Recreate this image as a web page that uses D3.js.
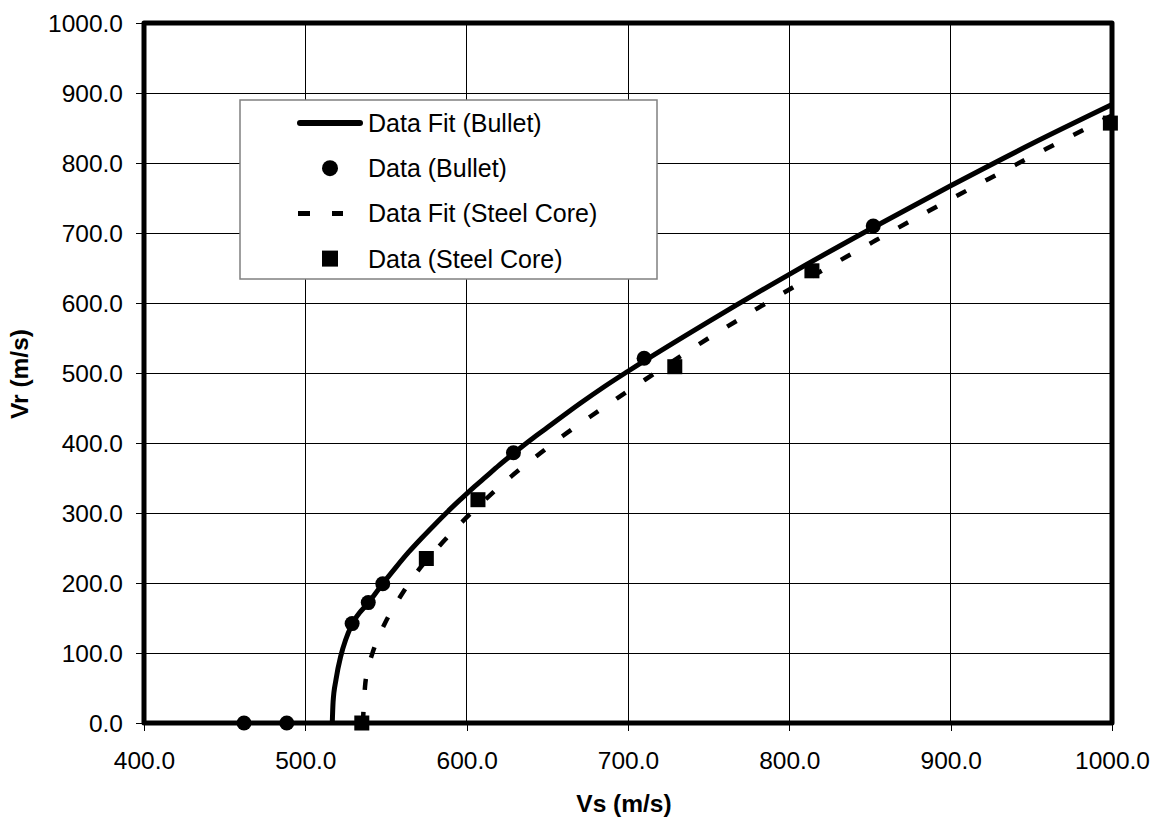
<!DOCTYPE html>
<html>
<head>
<meta charset="utf-8">
<script src="https://cdn.jsdelivr.net/npm/d3@7"></script>
<style>
  html, body { margin: 0; padding: 0; background: #fff; }
  svg { display: block; font-family: "Liberation Sans", Arial, sans-serif; }
</style>
</head>
<body>
<svg id="chart" width="1159" height="821"></svg>
<script>
// Residual velocity (Vr) versus striking velocity (Vs)

// Measured points, bullet: [Vs, Vr]
const bulletData = [
  [462, 0], [488.5, 0], [529, 142], [539, 172], [548, 199],
  [629, 386], [710, 521], [852, 710]
];

// Measured points, steel core: [Vs, Vr]
const steelData = [
  [535, 0], [575, 235], [607, 319], [729, 509], [814, 646], [999, 857]
];

// Fitted curve, bullet: [Vs, Vr]
const bulletFit = [
  [516.7, 0], [517.2, 30], [519, 62], [522, 96], [525, 119], [529, 141],
  [540, 174.5], [548, 199], [556, 222], [564, 244], [572, 264],
  [580, 283], [588, 301.5], [596, 319], [604, 336], [612, 352],
  [620, 368], [629, 385], [640, 405], [650, 422], [670, 456], [685, 480],
  [700, 502.5], [750, 573.4], [800, 641], [850, 705.4], [900, 767.4],
  [950, 827], [1000, 883.4]
];

// Fitted curve, steel core: [Vs, Vr]
const steelFit = [
  [535.7, 0], [536.2, 25], [537, 52], [538.5, 75], [541.2, 97], [544.5, 118],
  [548.8, 140], [558.7, 180], [570, 218], [583.5, 254], [597.5, 288],
  [613.4, 323], [627.5, 352], [643.8, 382], [659.5, 410], [676.5, 437.5],
  [693, 463.5], [710.3, 490], [744.6, 542], [780, 592], [814.3, 638.5],
  [851.6, 687], [887.2, 732.5], [923.8, 777.5], [959.9, 821], [1000, 868]
];

// Axis ticks
const xTicks = [400, 500, 600, 700, 800, 900, 1000];
const yTicks = [0, 100, 200, 300, 400, 500, 600, 700, 800, 900, 1000];

const xTitle = "Vs (m/s)";
const yTitle = "Vr (m/s)";

const legendItems = [
  { label: "Data Fit (Bullet)", kind: "solid" },
  { label: "Data (Bullet)", kind: "circle" },
  { label: "Data Fit (Steel Core)", kind: "dash" },
  { label: "Data (Steel Core)", kind: "square" }
];

const svg = d3.select("#chart");
const x = d3.scaleLinear().domain([400, 1000]).range([144, 1112]);
const y = d3.scaleLinear().domain([0, 1000]).range([723, 23]);

svg.append("rect").attr("width", 1159).attr("height", 821).attr("fill", "#fff");

// grid
const grid = svg.append("g").attr("shape-rendering", "crispEdges")
  .attr("stroke", "#000").attr("stroke-width", 1);
grid.selectAll("line.h").data(yTicks.slice(1, -1)).join("line")
  .attr("class", "h")
  .attr("x1", x(400)).attr("x2", x(1000))
  .attr("y1", d => y(d)).attr("y2", d => y(d));
grid.selectAll("line.v").data(xTicks.slice(1, -1)).join("line")
  .attr("class", "v")
  .attr("x1", d => x(d)).attr("x2", d => x(d))
  .attr("y1", y(0)).attr("y2", y(1000));

// axes (ticks and labels)
const fmt = d3.format(".1f");
const yAxis = svg.append("g").attr("transform", `translate(${x(400)},0)`)
  .call(d3.axisLeft(y).tickValues(yTicks).tickFormat(fmt)
    .tickSize(8).tickSizeOuter(0).tickPadding(13));
const xAxis = svg.append("g").attr("transform", `translate(0,${y(0)})`)
  .call(d3.axisBottom(x).tickValues(xTicks).tickFormat(fmt)
    .tickSize(8).tickSizeOuter(0).tickPadding(20.5));
[xAxis, yAxis].forEach(a => {
  a.select(".domain").remove();
  a.selectAll(".tick line").attr("stroke", "#000").attr("stroke-width", 1)
    .attr("shape-rendering", "crispEdges");
  a.selectAll(".tick text").attr("fill", "#000")
    .style("font-size", "24.5px")
    .style("font-family", "'Liberation Sans', Arial, sans-serif");
});
yAxis.selectAll(".tick text").attr("dy", "0.36em");

// plot frame
svg.append("rect")
  .attr("x", x(400)).attr("y", y(1000))
  .attr("width", x(1000) - x(400)).attr("height", y(0) - y(1000))
  .attr("fill", "none").attr("stroke", "#000").attr("stroke-width", 5)
  .attr("stroke-linejoin", "round");

// fitted curves
const line = d3.line().x(d => x(d[0])).y(d => y(d[1])).curve(d3.curveMonotoneX);
svg.append("path").datum(steelFit).attr("d", line)
  .attr("fill", "none").attr("stroke", "#000").attr("stroke-width", 4.5)
  .attr("stroke-dasharray", "11,22");
svg.append("path").datum(bulletFit).attr("d", line)
  .attr("fill", "none").attr("stroke", "#000").attr("stroke-width", 5)
  .attr("stroke-linecap", "butt");

// data markers
svg.append("g").selectAll("circle").data(bulletData).join("circle")
  .attr("cx", d => x(d[0])).attr("cy", d => y(d[1])).attr("r", 7.5)
  .attr("fill", "#000");
const sq = 15;
svg.append("g").selectAll("rect").data(steelData).join("rect")
  .attr("x", d => x(d[0]) - sq / 2).attr("y", d => y(d[1]) - sq / 2)
  .attr("width", sq).attr("height", sq).attr("fill", "#000");

// axis titles
svg.append("text").attr("x", 624).attr("y", 812)
  .attr("text-anchor", "middle").attr("font-weight", "bold")
  .style("font-size", "24.5px").text(xTitle);
svg.append("text").attr("transform", "translate(27.5,374) rotate(-90)")
  .attr("text-anchor", "middle").attr("font-weight", "bold")
  .style("font-size", "24.5px").text(yTitle);

// legend
const lg = svg.append("g");
lg.append("rect").attr("x", 240).attr("y", 100).attr("width", 417).attr("height", 179)
  .attr("fill", "#fff").attr("stroke", "#808080").attr("stroke-width", 1.5);
const rowY = i => 123 + i * 45.2;
const mx = 330;
legendItems.forEach((it, i) => {
  const cy = rowY(i);
  if (it.kind === "solid") {
    lg.append("line").attr("x1", 300).attr("x2", 360).attr("y1", cy).attr("y2", cy)
      .attr("stroke", "#000").attr("stroke-width", 6).attr("stroke-linecap", "round");
  } else if (it.kind === "circle") {
    lg.append("circle").attr("cx", mx).attr("cy", cy).attr("r", 8).attr("fill", "#000");
  } else if (it.kind === "dash") {
    lg.append("line").attr("x1", 298).attr("x2", 343).attr("y1", cy).attr("y2", cy)
      .attr("stroke", "#000").attr("stroke-width", 5).attr("stroke-dasharray", "12,22");
  } else {
    lg.append("rect").attr("x", mx - 8).attr("y", cy - 8).attr("width", 16).attr("height", 16)
      .attr("fill", "#000");
  }
  lg.append("text").attr("x", 368).attr("y", cy + 9)
    .style("font-size", "25px").attr("fill", "#000").text(it.label);
});
</script>
</body>
</html>
